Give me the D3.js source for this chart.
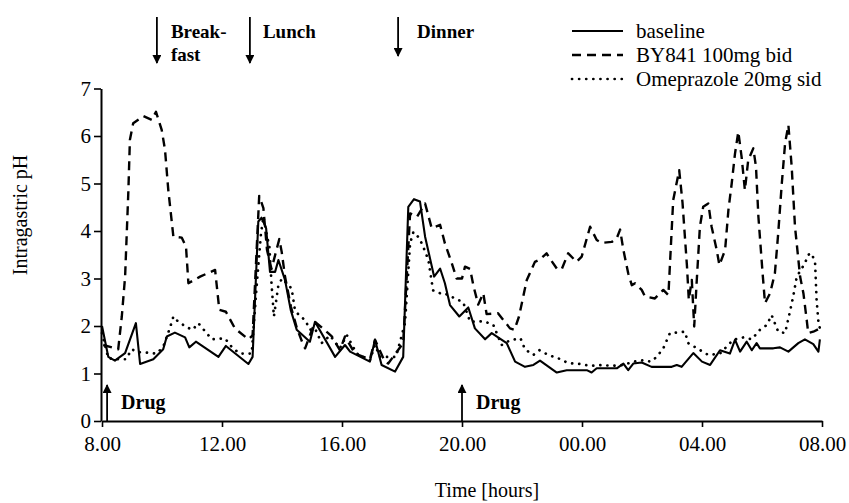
<!DOCTYPE html>
<html>
<head>
<meta charset="utf-8">
<script src="https://cdn.jsdelivr.net/npm/d3@7"></script>
<style>
  html, body { margin: 0; padding: 0; background: #fff; }
  svg { display: block; }
  text { font-family: "Liberation Serif", "Times New Roman", serif; fill: #000; }
</style>
</head>
<body>
<div id="chart"></div>
<script>
// ---- data (time in hours from 8.00, pH) ----
const baselineT = [8.0,8.21,8.43,8.77,9.13,9.27,9.71,10.04,10.16,10.43,10.77,10.91,11.13,11.88,12.13,12.88,13.02,13.21,13.32,13.47,13.6,13.77,13.88,14.1,14.29,14.49,14.93,15.1,15.77,16.1,16.27,16.93,17.1,17.32,17.77,18.04,18.21,18.4,18.6,18.77,19.07,19.27,19.43,19.6,19.91,20.21,20.43,20.77,20.99,21.49,21.77,22.1,22.38,22.6,23.16,23.49,24.16,24.32,24.49,25.16,25.38,25.54,25.71,25.99,26.32,26.99,27.16,27.32,27.71,28.0,28.27,28.6,28.93,29.1,29.27,29.49,29.66,29.82,29.93,30.38,30.6,30.88,31.21,31.43,31.71,31.88,31.93];
const baselinePH = [2.0,1.35,1.27,1.43,2.06,1.2,1.3,1.51,1.78,1.86,1.76,1.55,1.67,1.35,1.58,1.2,1.35,4.2,4.28,4.06,3.14,3.14,3.39,2.97,2.34,1.92,1.67,2.09,1.35,1.6,1.46,1.25,1.71,1.18,1.04,1.35,4.51,4.67,4.62,3.88,3.04,3.21,2.9,2.44,2.2,2.39,1.95,1.72,1.85,1.64,1.25,1.14,1.18,1.27,1.02,1.07,1.07,1.02,1.11,1.11,1.21,1.07,1.21,1.23,1.14,1.14,1.18,1.14,1.43,1.25,1.18,1.49,1.42,1.71,1.46,1.67,1.49,1.64,1.53,1.53,1.55,1.46,1.64,1.72,1.62,1.46,1.72];

const by841T = [8.04,8.27,8.54,8.66,8.77,8.88,8.93,9.04,9.38,9.66,9.8,9.99,10.1,10.21,10.38,10.66,10.8,10.88,11.27,11.77,11.91,12.13,12.43,12.88,13.02,13.24,13.38,13.5,13.65,13.91,13.99,14.1,14.3,14.5,14.71,14.77,15.1,15.54,15.66,15.93,16.1,16.43,16.93,17.1,17.43,17.54,18.04,18.27,18.5,18.77,18.99,19.27,19.43,19.66,19.82,20.0,20.1,20.27,20.38,20.54,20.71,20.82,21.2,21.6,21.75,21.9,22.16,22.43,22.6,22.82,22.93,23.16,23.32,23.54,23.82,23.99,24.27,24.49,24.66,24.99,25.16,25.27,25.38,25.54,25.66,25.77,25.99,26.1,26.43,26.71,26.88,27.04,27.24,27.35,27.5,27.56,27.66,27.74,27.82,27.93,28.04,28.21,28.32,28.49,28.58,28.77,28.88,28.99,29.1,29.21,29.32,29.43,29.54,29.71,29.8,29.88,30.02,30.1,30.27,30.43,30.54,30.66,30.77,30.88,30.99,31.1,31.27,31.38,31.49,31.54,31.71,31.93];
const by841PH = [1.6,1.56,1.51,2.2,3.04,4.86,5.92,6.27,6.42,6.34,6.51,6.13,5.71,4.86,3.88,3.86,3.67,2.9,3.04,3.18,2.34,2.3,1.95,1.72,1.8,4.74,4.48,3.6,3.2,3.83,3.56,3.04,2.4,1.95,1.6,1.53,2.09,1.85,1.78,1.49,1.78,1.42,1.3,1.71,1.25,1.21,1.64,4.37,4.3,4.58,4.06,4.13,3.74,3.32,3.0,3.0,3.25,3.2,2.85,2.45,2.69,2.25,2.27,1.95,1.92,2.2,2.97,3.35,3.4,3.53,3.42,3.21,3.19,3.53,3.35,3.46,4.09,3.81,3.75,3.77,3.85,4.03,3.6,3.11,2.86,2.9,2.76,2.62,2.58,2.76,2.65,4.65,5.28,4.6,3.25,2.55,2.97,1.99,2.9,4.09,4.51,4.58,4.09,3.6,3.28,3.6,4.44,5.0,5.63,6.09,5.56,4.86,5.49,5.74,5.35,4.3,3.11,2.48,2.69,3.11,3.95,5.0,5.85,6.23,5.35,4.09,3.04,2.69,2.13,1.85,1.88,1.95];

const omeT = [8.0,8.21,8.5,8.8,8.99,9.2,9.49,9.82,10.04,10.27,10.38,10.54,10.84,11.02,11.21,11.66,12.1,12.36,12.6,12.99,13.15,13.3,13.38,13.5,13.58,13.65,13.73,13.88,14.0,14.32,14.43,14.6,14.77,14.93,15.1,15.32,15.6,15.93,16.16,16.49,16.93,17.1,17.27,17.8,18.1,18.27,18.38,18.58,18.73,18.88,18.99,19.04,19.27,19.38,19.7,20.04,20.27,20.71,21.04,21.32,21.6,21.95,22.1,22.38,22.58,22.88,23.21,23.54,23.93,24.27,24.66,24.99,25.38,25.71,26.04,26.3,26.49,26.71,26.93,27.43,27.54,28.21,28.6,29.04,29.38,29.66,29.93,30.16,30.32,30.54,30.77,30.93,31.04,31.16,31.43,31.54,31.66,31.77,31.82,31.88,31.93];
const omePH = [1.85,1.32,1.3,1.3,1.51,1.45,1.44,1.42,1.56,1.97,2.2,2.09,1.97,1.92,2.06,1.72,1.74,1.53,1.42,1.42,2.8,3.95,4.3,3.9,3.67,2.9,2.2,2.86,3.0,2.79,2.34,2.2,2.13,1.92,1.95,1.64,1.8,1.53,1.81,1.42,1.28,1.6,1.35,1.35,2.06,3.74,3.98,3.85,3.63,3.39,2.93,2.75,2.69,2.7,2.6,2.5,2.09,2.1,2.03,1.6,1.7,1.74,1.51,1.39,1.49,1.39,1.32,1.22,1.2,1.16,1.18,1.16,1.18,1.25,1.28,1.25,1.35,1.53,1.85,1.88,1.64,1.39,1.42,1.71,1.76,1.72,1.92,2.02,2.23,1.88,1.85,2.3,2.62,3.04,3.32,3.5,3.53,3.32,2.55,2.09,1.95];

const xTickValues = [8, 12, 16, 20, 24, 28, 32];
const xTickLabels = ["8.00", "12.00", "16.00", "20.00", "00.00", "04.00", "08.00"];
const yTickValues = [0, 1, 2, 3, 4, 5, 6, 7];

const seriesNames = ["baseline", "BY841 100mg bid", "Omeprazole 20mg sid"];
const mealLabels = [["Break-", "fast"], ["Lunch"], ["Dinner"]];
const mealTimes = [9.83, 12.93, 17.87];
const drugLabels = ["Drug", "Drug"];
const drugTimes = [8.17, 20.0];

// ---- layout ----
const W = 849, H = 503;
const svg = d3.select("#chart").append("svg").attr("width", W).attr("height", H);

const x = d3.scaleLinear().domain([8, 32]).range([102, 822]);
const y = d3.scaleLinear().domain([0, 7]).range([421, 88.5]);

const styles = [
  { dash: null, width: 2.1, cap: "butt" },
  { dash: "9,6", width: 2.4, cap: "butt" },
  { dash: "0.1,7", width: 2.7, cap: "round" }
];

// axes
const xAxis = d3.axisBottom(x).tickValues(xTickValues)
  .tickFormat((d, i) => xTickLabels[i]).tickSize(6).tickSizeOuter(0);
const gx = svg.append("g").attr("transform", `translate(0,${y(0)})`).call(xAxis);
gx.select(".domain").attr("stroke-width", 2).attr("stroke", "#000");
gx.selectAll(".tick line").attr("stroke-width", 1.6).attr("stroke", "#000");
gx.selectAll(".tick text").attr("font-size", 21).attr("font-family", "Liberation Serif, serif").attr("dy", "1.05em").attr("y", 8);

const yAxis = d3.axisLeft(y).tickValues(yTickValues).tickFormat(d3.format("d")).tickSize(7).tickSizeOuter(0);
const gy = svg.append("g").attr("transform", `translate(${x(8) - 1},0)`).call(yAxis);
gy.select(".domain").attr("stroke-width", 2).attr("stroke", "#000");
gy.selectAll(".tick line").attr("stroke-width", 1.6).attr("stroke", "#000");
gy.selectAll(".tick text").attr("font-size", 21).attr("font-family", "Liberation Serif, serif").attr("x", -10);

// axis titles
svg.append("text").attr("x", 487).attr("y", 497).attr("text-anchor", "middle")
  .attr("font-size", 20).text("Time [hours]");
svg.append("text").attr("transform", "translate(27,215) rotate(-90)").attr("text-anchor", "middle")
  .attr("font-size", 20).text("Intragastric pH");

// lines
const line = d3.line().x(d => x(d[0])).y(d => y(d[1]));
const seriesData = [
  d3.zip(baselineT, baselinePH),
  d3.zip(by841T, by841PH),
  d3.zip(omeT, omePH)
];
seriesData.forEach((data, i) => {
  svg.append("path").datum(data).attr("d", line)
    .attr("fill", "none").attr("stroke", "#000")
    .attr("stroke-width", styles[i].width)
    .attr("stroke-linecap", styles[i].cap)
    .attr("stroke-linejoin", "round")
    .attr("stroke-dasharray", styles[i].dash);
});

// arrow marker
const defs = svg.append("defs");
defs.append("marker").attr("id", "ah").attr("viewBox", "0 0 10 10")
  .attr("refX", 9).attr("refY", 5).attr("markerWidth", 9).attr("markerHeight", 9)
  .attr("markerUnits", "userSpaceOnUse").attr("orient", "auto")
  .append("path").attr("d", "M0,0 L10,5 L0,10 Z").attr("fill", "#000");

// meal arrows
const mealTextOffset = [14, 13, 19];
mealTimes.forEach((t, i) => {
  const bottom = i === 2 ? 56 : 63;
  svg.append("line").attr("x1", x(t)).attr("x2", x(t)).attr("y1", 17).attr("y2", bottom)
    .attr("stroke", "#000").attr("stroke-width", 1.8).attr("marker-end", "url(#ah)");
  mealLabels[i].forEach((s, j) => {
    svg.append("text").attr("x", x(t) + mealTextOffset[i]).attr("y", 38 + j * 23)
      .attr("font-size", 19).attr("font-weight", "bold").text(s);
  });
});

// drug arrows
drugTimes.forEach((t, i) => {
  svg.append("line").attr("x1", x(t)).attr("x2", x(t)).attr("y1", y(0)).attr("y2", 385)
    .attr("stroke", "#000").attr("stroke-width", 1.8).attr("marker-end", "url(#ah)");
  svg.append("text").attr("x", x(t) + 14).attr("y", 409)
    .attr("font-size", 20).attr("font-weight", "bold").text(drugLabels[i]);
});

// legend
seriesNames.forEach((name, i) => {
  const ly = 31 + i * 24;
  svg.append("line").attr("x1", 572).attr("x2", 623).attr("y1", ly).attr("y2", ly)
    .attr("stroke", "#000").attr("stroke-width", styles[i].width)
    .attr("stroke-linecap", styles[i].cap)
    .attr("stroke-dasharray", styles[i].dash);
  svg.append("text").attr("x", 636).attr("y", ly + 7).attr("font-size", 21).text(name);
});
</script>
</body>
</html>
